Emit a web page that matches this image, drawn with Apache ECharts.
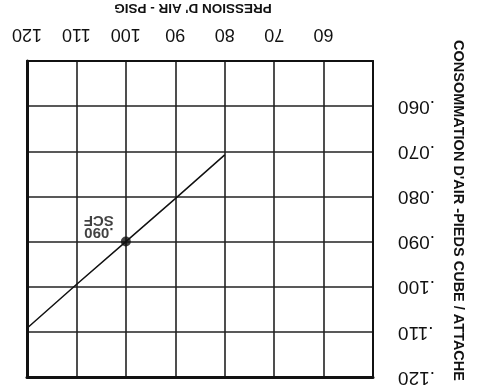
<!DOCTYPE html>
<html>
<head>
<meta charset="utf-8">
<script src="https://cdn.jsdelivr.net/npm/echarts@6/dist/echarts.min.js"></script>
<style>
  html, body { margin: 0; padding: 0; background: #fff; }
  #chart { width: 479px; height: 392px; }
</style>
</head>
<body>
<div id="chart"></div>
<script>
// chart is printed upside down, so both axes are inverted and all text is turned 180deg
const pressionPsig = [80, 90, 100, 110, 120]
const consommation = [0.0708, 0.0805, 0.090, 0.0995, 0.1092]
const pointPsig = [100]
const pointScf = [0.090]
const pointLabel = '.090\nSCF'

const xMin = 50, xMax = 120, xStep = 10
const yMin = 0.05, yMax = 0.12, yStep = 0.01

const FONT = '"Liberation Sans", Arial, sans-serif'
const INK = '#111'

const chart = echarts.init(document.getElementById('chart'))

chart.setOption({
  animation: false,
  grid: { left: 27, right: 106, top: 61, bottom: 15, outerBoundsMode: 'none' },
  xAxis: [
    {
      type: 'value', position: 'top', inverse: true,
      min: xMin, max: xMax, interval: xStep,
      name: "PRESSION D' AIR - PSIG",
      nameLocation: 'middle', nameGap: 46, nameRotate: 180,
      nameTextStyle: { fontFamily: FONT, fontSize: 13.5, fontWeight: 'bold', color: INK, padding: [0, 0, 0, 14] },
      axisLine: { show: true, lineStyle: { color: INK, width: 2 } },
      axisTick: { show: false },
      axisLabel: {
        rotate: 180, margin: 18, fontFamily: FONT, fontSize: 18, color: INK,
        formatter: v => (v === xMin ? '' : String(v)),
      },
      splitLine: { show: true, lineStyle: { color: '#222', width: 1.6 } },
    },
    {
      type: 'value', position: 'bottom', inverse: true,
      min: xMin, max: xMax, interval: xStep,
      axisLine: { show: true, lineStyle: { color: INK, width: 3 } },
      axisTick: { show: false }, axisLabel: { show: false }, splitLine: { show: false },
    },
  ],
  yAxis: [
    {
      type: 'value', position: 'right', inverse: true,
      min: yMin, max: yMax, interval: yStep,
      name: "CONSOMMATION D'AIR -PIEDS CUBE / ATTACHE",
      nameLocation: 'middle', nameGap: 77, nameRotate: -90,
      nameTextStyle: { fontFamily: FONT, fontSize: 14.5, fontWeight: 'bold', color: INK, padding: [0, 17, 0, 0] },
      axisLine: { show: true, lineStyle: { color: INK, width: 2 } },
      axisTick: { show: false },
      axisLabel: {
        rotate: 180, margin: 25, fontFamily: FONT, fontSize: 19, color: INK,
        formatter: v => (Math.abs(v - yMin) < 1e-9 ? '' : v.toFixed(3).replace(/^0/, '')),
      },
      splitLine: { show: true, lineStyle: { color: '#222', width: 1.6 } },
    },
    {
      type: 'value', position: 'left', inverse: true,
      min: yMin, max: yMax, interval: yStep,
      axisLine: { show: true, lineStyle: { color: INK, width: 3 } },
      axisTick: { show: false }, axisLabel: { show: false }, splitLine: { show: false },
    },
  ],
  series: [
    {
      type: 'line',
      data: pressionPsig.map((p, i) => [p, consommation[i]]),
      showSymbol: false,
      lineStyle: { color: INK, width: 1.5 },
    },
    {
      type: 'scatter',
      data: pointPsig.map((p, i) => [p, pointScf[i]]),
      symbol: 'circle', symbolSize: 10,
      itemStyle: { color: INK },
      label: {
        show: true, formatter: pointLabel,
        position: [-22, -10.5], rotate: 180, align: 'center', verticalAlign: 'middle',
        fontFamily: FONT, fontSize: 15, fontWeight: 'bold', color: INK, lineHeight: 12,
      },
    },
  ],
})
</script>
</body>
</html>
